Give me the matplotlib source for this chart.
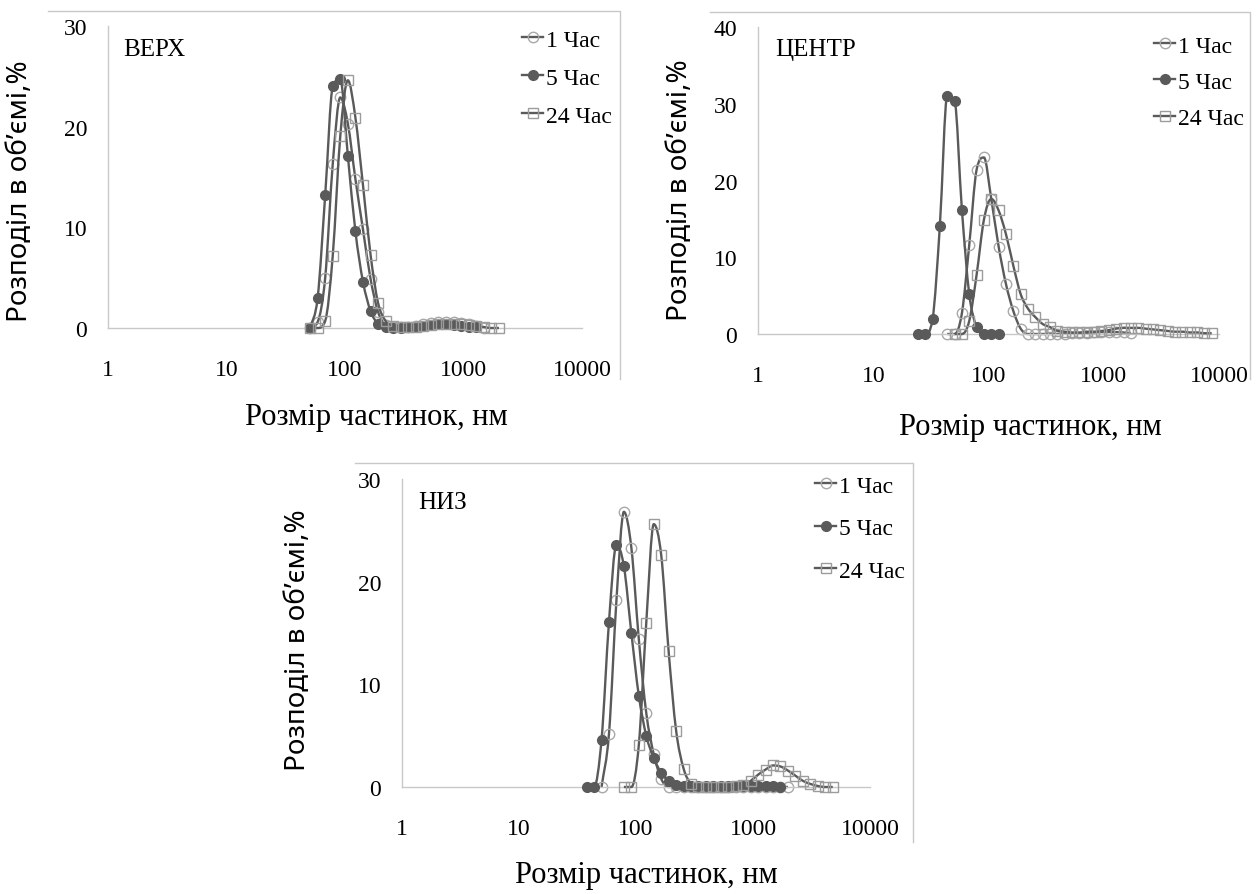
import matplotlib.pyplot as plt
import numpy as np
from matplotlib.path import Path
from matplotlib.patches import PathPatch
from matplotlib.lines import Line2D

plt.rcParams['font.family'] = ['Liberation Serif', 'DejaVu Serif']
SANS = ['Noto Sans', 'DejaVu Sans']

# розміри частинок (нм) - класи приладу DLS
bins = [24.36, 28.21, 32.67, 37.84, 43.82, 50.75, 58.77, 68.06, 78.82, 91.28,
        105.7, 122.4, 141.8, 164.2, 190.1, 220.2, 255.0, 295.3, 342.0, 396.1,
        458.7, 531.2, 615.1, 712.4, 825.0, 955.4, 1106, 1281, 1484, 1718,
        1990, 2305, 2669, 3091, 3580, 4145, 4801, 5560, 6439, 7456, 8635]

labels = ['1 Час', '5 Час', '24 Час']

# ВЕРХ
top_start = [50.75, 50.75, 50.75]
top_1h = [0, 0.6, 5.0, 16.3, 22.9, 20.3, 14.8, 9.8, 4.9, 1.6, 0.3, 0.1, 0.05,
          0.1, 0.2, 0.35, 0.5, 0.6, 0.6, 0.55, 0.45, 0.35, 0.2, 0]
top_5h = [0, 3.0, 13.2, 24.0, 24.7, 17.1, 9.6, 4.6, 1.7, 0.4, 0.1, 0, 0,
          0.05, 0.1, 0.2, 0.3, 0.35, 0.35, 0.3, 0.2, 0.1, 0.05]
top_24h = [0, 0, 0.7, 7.2, 19.1, 24.6, 20.9, 14.2, 7.3, 2.5, 0.7, 0.2, 0.1,
           0.1, 0.1, 0.15, 0.25, 0.35, 0.4, 0.4, 0.35, 0.3, 0.2, 0.1, 0, 0]

# ЦЕНТР
mid_start = [43.82, 24.36, 50.75]
mid_1h = [0, 0, 2.7, 11.6, 21.4, 23.0, 17.6, 11.4, 6.5, 3.0, 0.7, 0, 0, 0,
          0, 0, 0.05, 0.1, 0.1, 0.15, 0.2, 0.25, 0.25, 0.25, 0.2, 0.1]
mid_5h = [0, 0, 1.9, 14.1, 31.0, 30.4, 16.2, 5.2, 0.9, 0, 0, 0]
mid_24h = [0, 0, 1.7, 7.7, 14.9, 17.6, 16.1, 13.0, 8.9, 5.2, 3.3, 2.2, 1.3,
           0.9, 0.4, 0.3, 0.2, 0.2, 0.3, 0.3, 0.4, 0.5, 0.7, 0.8, 0.8, 0.8,
           0.7, 0.6, 0.5, 0.4, 0.3, 0.3, 0.2, 0.2, 0.1, 0.1]

# НИЗ
bot_start = [50.75, 37.84, 78.82]
bot_1h = [0, 5.2, 18.2, 26.8, 23.3, 14.4, 7.2, 3.2, 0.8, 0, 0, 0, 0, 0, 0, 0,
          0, 0, 0, 0, 0, 0, 0, 0, 0, 0]
bot_5h = [0, 0, 4.6, 16.1, 23.6, 21.5, 15.0, 8.9, 5.0, 2.8, 1.4, 0.55, 0.15,
          0.05, 0.05, 0.05, 0.05, 0.05, 0.05, 0.1, 0.1, 0.1, 0.1, 0.05, 0.05,
          0.05, 0]
bot_24h = [0, 0, 4.1, 16.0, 25.6, 22.6, 13.2, 5.5, 1.8, 0.3, 0, 0, 0, 0, 0,
           0.1, 0.2, 0.6, 1.2, 1.7, 2.1, 2.0, 1.6, 1.1, 0.6, 0.3, 0.1, 0, 0]

W, H = 1256, 895
LINE = '#5a5a5a'
AXC = '#c8c8c8'
styles = [dict(marker='o', mfc='none', mec='#a8a8a8', ms=7.5, mew=1.0),
          dict(marker='o', mfc=LINE, mec=LINE, ms=7, mew=1.0),
          dict(marker='s', mfc='none', mec='#9c9c9c', ms=7.5, mew=1.0)]


def smooth_path(xs, ys):
    # згладжена крива (монотонний кубічний Безьє у лог. координатах)
    lx = np.log10(xs)
    y = np.asarray(ys, float)
    n = len(lx)
    h = np.diff(lx)
    d = np.diff(y) / h
    m = np.zeros(n)
    m[0], m[-1] = d[0], d[-1]
    for i in range(1, n - 1):
        if d[i - 1] * d[i] > 0:
            m[i] = (d[i - 1] + d[i]) / 2
    for k in range(n - 1):
        if d[k] == 0:
            m[k] = m[k + 1] = 0
            continue
        a, b = m[k] / d[k], m[k + 1] / d[k]
        if a * a + b * b > 9:
            t = 3 / np.sqrt(a * a + b * b)
            m[k], m[k + 1] = t * a * d[k], t * b * d[k]
    verts = [(lx[0], y[0])]
    codes = [Path.MOVETO]
    for k in range(n - 1):
        c1 = (lx[k] + h[k] / 3, y[k] + m[k] * h[k] / 3)
        c2 = (lx[k + 1] - h[k] / 3, y[k + 1] - m[k + 1] * h[k] / 3)
        verts += [c1, c2, (lx[k + 1], y[k + 1])]
        codes += [Path.CURVE4] * 3
    verts = [(10 ** v[0], v[1]) for v in verts]
    return Path(verts, codes)


def fig_line(fig, xs, ys):
    fig.add_artist(Line2D([x / W for x in xs], [1 - y / H for y in ys],
                          transform=fig.transFigure, color=AXC, lw=1.0))


def panel(fig, box, ymax, title, starts, series, title_xy, leg, ylab_xy,
          xlab_xy, frame):
    x0, y0, x1, y1 = box
    ax = fig.add_axes([x0 / W, 1 - y1 / H, (x1 - x0) / W, (y1 - y0) / H])
    ax.set_xscale('log')
    ax.set_xlim(1, 10000)
    ax.set_ylim(0, ymax)
    for i, (st, vals) in enumerate(zip(starts, series)):
        k = bins.index(st)
        xs = bins[k:k + len(vals)]
        ax.add_patch(PathPatch(smooth_path(xs, vals), fill=False,
                               edgecolor=LINE, lw=1.7, clip_on=False,
                               zorder=2 + i))
        ax.plot(xs, vals, ls='none', clip_on=False, zorder=2.5 + i,
                **styles[i])
    ax.set_xticks([1, 10, 100, 1000, 10000])
    ax.set_xticklabels(['1', '10', '100', '1000', '10000'])
    ax.minorticks_off()
    ax.set_yticks(np.arange(0, ymax + 1, 10))
    ax.tick_params(length=0, labelsize=17)
    ax.tick_params(axis='x', pad=22)
    ax.tick_params(axis='y', pad=15)
    for s in ['top', 'right']:
        ax.spines[s].set_visible(False)
    for s in ['left', 'bottom']:
        ax.spines[s].set_color(AXC)
        ax.spines[s].set_linewidth(1.0)
    ax.text(title_xy[0] / W, 1 - title_xy[1] / H, title, fontsize=18,
            va='center', ha='left', transform=fig.transFigure)
    handles = [Line2D([], [], color=LINE, lw=1.7, **styles[i])
               for i in range(3)]
    lx, ly, lsp = leg
    ax.legend(handles, labels, loc='upper left',
              bbox_to_anchor=(lx / W, 1 - ly / H),
              bbox_transform=fig.transFigure, frameon=False, fontsize=17,
              handlelength=0.9, handletextpad=0.1, borderpad=0,
              borderaxespad=0, labelspacing=lsp)
    fig.text(ylab_xy[0] / W, 1 - ylab_xy[1] / H, 'Розподіл в об’ємі,%',
             family=SANS, fontsize=20, rotation=90, ha='center', va='center')
    fig.text(xlab_xy[0] / W, 1 - xlab_xy[1] / H, 'Розмір частинок, нм',
             fontsize=22, ha='center', va='center')
    fx0, fy0, fx1, fy1 = frame
    fig_line(fig, [fx0, fx1, fx1], [fy0, fy0, fy1])
    return ax


fig = plt.figure(figsize=(W / 100, H / 100), dpi=100)

panel(fig, (108, 27, 582, 329), 30, 'ВЕРХ', top_start,
      [top_1h, top_5h, top_24h], (123, 50), (522, 30, 0.70), (20, 191),
      (376, 418), (48, 12, 620, 380))
panel(fig, (758, 28, 1219, 335), 40, 'ЦЕНТР', mid_start,
      [mid_1h, mid_5h, mid_24h], (775, 50), (1154, 36, 0.62), (680, 190),
      (1030, 428), (710, 13, 1250, 380))
panel(fig, (402, 480, 870, 788), 30, 'НИЗ', bot_start,
      [bot_1h, bot_5h, bot_24h], (418, 503), (815, 476, 0.89), (298, 640),
      (646, 876), (355, 464, 913, 843))

fig.savefig('out.png', dpi=100, facecolor='white')
